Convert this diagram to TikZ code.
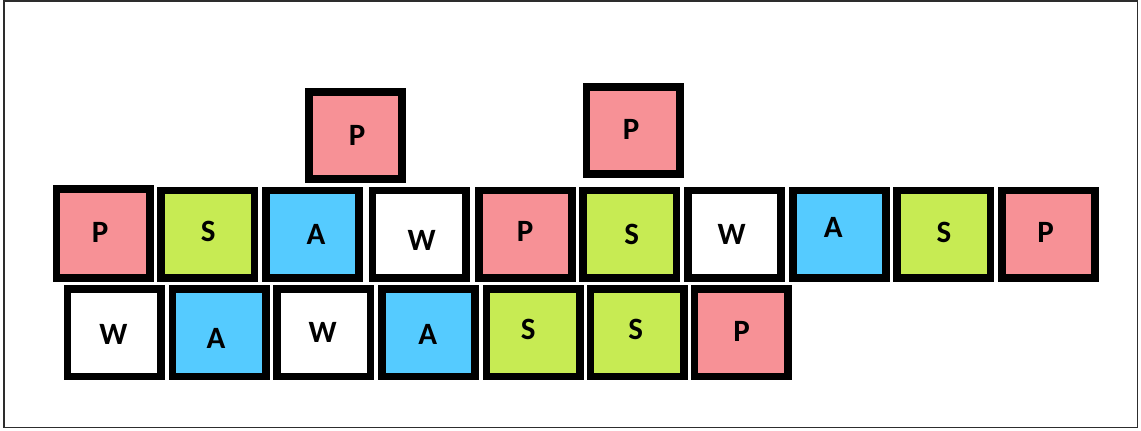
\documentclass[tikz,border=0pt]{standalone}
\usepackage{fontspec}
\setmainfont{Carlito}
\definecolor{pinkc}{RGB}{247,145,150}
\definecolor{greenc}{RGB}{199,235,83}
\definecolor{bluec}{RGB}{85,203,255}
\definecolor{framec}{RGB}{45,45,45}
\tikzset{
  tile/.style={draw=black, line width=7.7bp, minimum width=93.3bp, minimum height=87.3bp, inner sep=0pt},
  pk/.style={tile, fill=pinkc},
  gr/.style={tile, fill=greenc},
  bl/.style={tile, fill=bluec},
  wh/.style={tile, fill=white},
  lett/.style={inner sep=0pt, font=\fontsize{31bp}{37bp}\selectfont\bfseries}
}
\begin{document}
\begin{tikzpicture}[x=1bp,y=-1bp]
\useasboundingbox (0,0) rectangle (1141,430);
\fill[white] (0,0) rectangle (1141,430);
\draw[framec, line width=1.4bp] (4,1) rectangle (1137.5,427.5);
% top tiles
\node[pk] (t1) at (355.5,135.5) {};
\node[pk] (t2) at (633,130.5) {};
% row 1
\node[pk, minimum height=89bp] (a1) at (103.2,233.3) {};
\node[gr] (a2) at (207.8,234.2) {};
\node[bl] (a3) at (312.5,234.2) {};
\node[wh] (a4) at (419,234.2) {};
\node[pk] (a5) at (525.3,234.2) {};
\node[gr] (a6) at (629.8,234.2) {};
\node[wh] (a7) at (734.5,234.2) {};
\node[bl] (a8) at (839.3,234.2) {};
\node[gr] (a9) at (943.8,234.2) {};
\node[pk] (a10) at (1048.5,234.2) {};
% row 2
\node[wh] (b1) at (114.2,332.8) {};
\node[bl] (b2) at (219.2,332.8) {};
\node[wh] (b3) at (323.7,332.8) {};
\node[bl] (b4) at (428.3,332.8) {};
\node[gr] (b5) at (533.2,332.8) {};
\node[gr] (b6) at (637.2,332.8) {};
\node[pk] (b7) at (741,332.8) {};
% letters
\node[lett] (lt1) at (357,135.3) {P};
\node[lett] (lt2) at (631,129.3) {P};
\node[lett] (la1) at (100,232.7) {P};
\node[lett] (la2) at (208.3,231.7) {S};
\node[lett] (la3) at (316,234) {A};
\node[lett] (la4) at (421.7,240.7) {W};
\node[lett] (la5) at (525,231.7) {P};
\node[lett] (la6) at (631.7,234) {S};
\node[lett] (la7) at (731.7,234) {W};
\node[lett] (la8) at (833.3,227.3) {A};
\node[lett] (la9) at (944,232.3) {S};
\node[lett] (la10) at (1045.7,232.3) {P};
\node[lett] (lb1) at (113.3,334) {W};
\node[lett] (lb2) at (216,338.3) {A};
\node[lett] (lb3) at (322.7,332.7) {W};
\node[lett] (lb4) at (427.7,334) {A};
\node[lett] (lb5) at (528.3,329.3) {S};
\node[lett] (lb6) at (635.7,329.3) {S};
\node[lett] (lb7) at (741.7,331.7) {P};
\end{tikzpicture}
\end{document}
